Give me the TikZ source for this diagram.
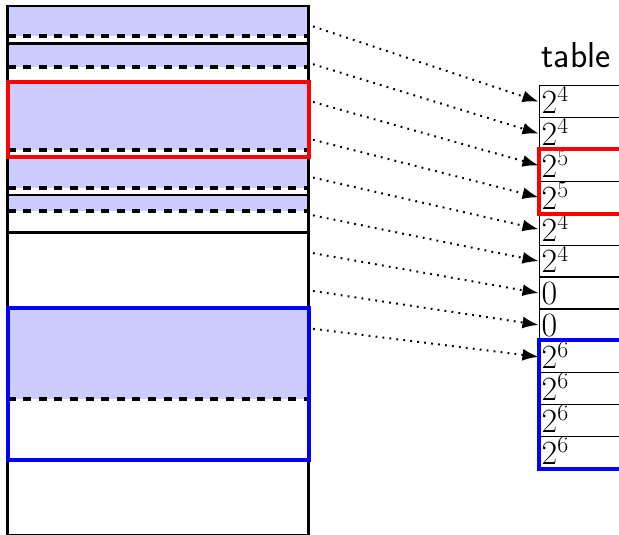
\documentclass[tikz,border=0pt]{standalone}
\usetikzlibrary{arrows.meta}
% a power of two written with a raised exponent
\newcommand{\powtwo}[1]{2\raisebox{0.34em}{\fontsize{23.8}{26}\selectfont #1}}
\begin{document}
\begin{tikzpicture}[x=1pt,y=-1pt,
  memline/.style={line width=2.7pt, draw=black},
  usedfill/.style={fill=blue!20},
  fillmark/.style={line width=3.2pt, dash pattern=on 8pt off 7.6pt},
  hilite/.style={line width=4pt},
  rowcell/.style={draw, line width=1.3pt, minimum width=130pt, minimum height=31.9pt, inner sep=0pt, anchor=north west},
  entry/.style={anchor=base west, inner sep=0pt, font=\fontsize{34}{40}\selectfont},
  title/.style={anchor=base west, inner sep=0pt, font=\sffamily\fontsize{36}{42}\selectfont},
  link/.style={line width=2pt, dash pattern=on 1.8pt off 5.2pt, -{Latex[length=16pt,width=12pt]}}
]
\useasboundingbox (0,0) rectangle (619,535);

% occupied part of each block, with its fill mark
\foreach \top/\lvl in {6/36, 43.8/67, 81.6/150, 157.2/188, 195/211, 308.4/399}{
  \fill[usedfill] (7.5,\top) rectangle (308.5,\lvl);
  \draw[fillmark] (7.5,\lvl) -- (308.5,\lvl);
}

% memory column and block boundaries
\draw[memline] (7.5,6) rectangle (308.5,535.2);
\foreach \top/\bot in {6/43.8, 43.8/81.6, 157.2/195, 195/232.8}{
  \draw[memline] (7.5,\top) rectangle (308.5,\bot);
}
\draw[hilite, red]  (7.5,81.6) rectangle (308.5,157.2);
\draw[hilite, blue] (7.5,308.4) rectangle (308.5,459.6);

% size table
\node[title] (ttl) at (541.5,68) {table};
\foreach \v [count=\k from 0] in {\powtwo{4},\powtwo{4},\powtwo{5},\powtwo{5},\powtwo{4},\powtwo{4},0,0,\powtwo{6},\powtwo{6},\powtwo{6},\powtwo{6}}{
  \node[rowcell] (r\k) at (538.5,{85+31.9*\k}) {};
  \node[entry] (t\k) at (541.5,{85+31.9*(\k+1)-3.5}) {\v};
}
\draw[hilite, red]  (r2.north west) rectangle (r3.south east);
\draw[hilite, blue] (r8.north west) rectangle (r11.south east);

% unit slots pointing at their table rows
\foreach \k in {0,...,8}{
  \coordinate (u\k) at (313,{6+37.8*(\k+0.5)+1.5});
  \draw[link] (u\k) -- (r\k.west);
}
\end{tikzpicture}
\end{document}
